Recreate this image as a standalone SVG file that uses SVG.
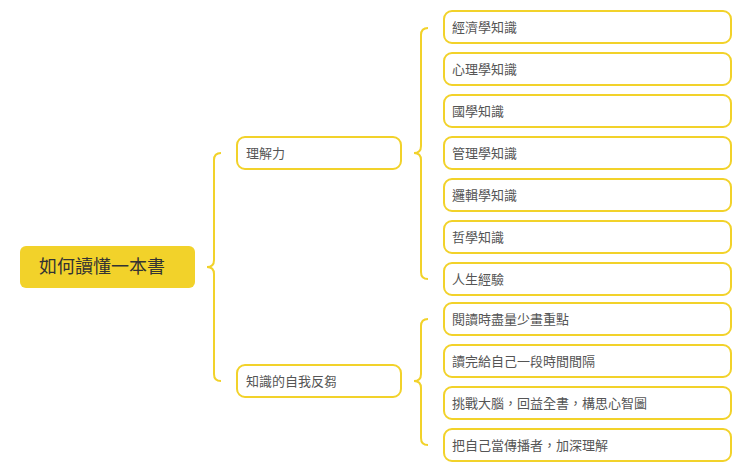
<svg xmlns="http://www.w3.org/2000/svg" width="740" height="468" viewBox="0 0 740 468">
<style>
.b{fill:#fff;stroke:#f2d22a;stroke-width:2}
.c{fill:none;stroke:#f2d22a;stroke-width:2}
text{font-family:"Noto Sans CJK TC","Noto Sans CJK SC",sans-serif;font-size:13px;fill:#555}
.r{font-size:18px;fill:#333}
</style>
<rect width="740" height="468" fill="#fff"/>
<g id="connectors">
<path class="c" d="M221,153 Q214,153 214,160 L214,260 Q214,267 207,267 Q214,267 214,274 L214,374 Q214,381 221,381"/>
<path class="c" d="M428,28 Q421,28 421,35 L421,146 Q421,153 414,153 Q421,153 421,160 L421,272 Q421,279 428,279"/>
<path class="c" d="M428,319 Q421,319 421,326 L421,374 Q421,381 414,381 Q421,381 421,388 L421,438 Q421,445 428,445"/>
</g>
<g id="root"><rect x="20" y="246" width="175" height="42" rx="6" fill="#f2d22a"/><text class="r" x="39" y="273">如何讀懂一本書</text></g>
<g id="n1"><rect class="b" x="237" y="137" width="164" height="32" rx="8"/><text x="246" y="158">理解力</text></g>
<g id="n2"><rect class="b" x="237" y="365" width="164" height="32" rx="8"/><text x="246" y="386">知識的自我反芻</text></g>
<g id="a1"><rect class="b" x="444" y="11" width="287" height="32" rx="8"/><text x="452" y="32">經濟學知識</text></g>
<g id="a2"><rect class="b" x="444" y="53" width="287" height="32" rx="8"/><text x="452" y="74">心理學知識</text></g>
<g id="a3"><rect class="b" x="444" y="95" width="287" height="32" rx="8"/><text x="452" y="116">國學知識</text></g>
<g id="a4"><rect class="b" x="444" y="137" width="287" height="32" rx="8"/><text x="452" y="158">管理學知識</text></g>
<g id="a5"><rect class="b" x="444" y="179" width="287" height="32" rx="8"/><text x="452" y="200">邏輯學知識</text></g>
<g id="a6"><rect class="b" x="444" y="221" width="287" height="32" rx="8"/><text x="452" y="242">哲學知識</text></g>
<g id="a7"><rect class="b" x="444" y="263" width="287" height="32" rx="8"/><text x="452" y="284">人生經驗</text></g>
<g id="b1"><rect class="b" x="444" y="303" width="287" height="32" rx="8"/><text x="452" y="324">閱讀時盡量少畫重點</text></g>
<g id="b2"><rect class="b" x="444" y="345" width="287" height="32" rx="8"/><text x="452" y="366">讀完給自己一段時間間隔</text></g>
<g id="b3"><rect class="b" x="444" y="387" width="287" height="32" rx="8"/><text x="452" y="408">挑戰大腦，回益全書，構思心智圖</text></g>
<g id="b4"><rect class="b" x="444" y="429" width="287" height="32" rx="8"/><text x="452" y="450">把自己當傳播者，加深理解</text></g>
</svg>
